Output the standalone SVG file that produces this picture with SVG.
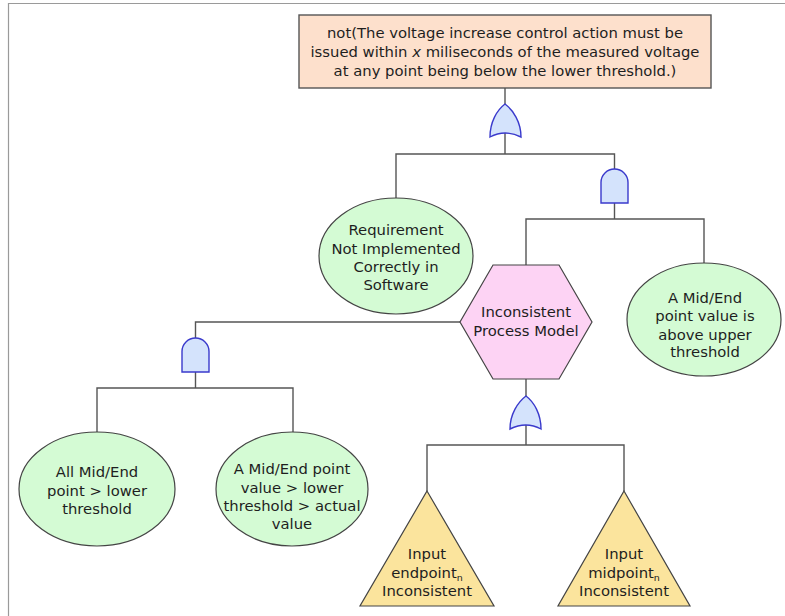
<svg xmlns="http://www.w3.org/2000/svg" width="785" height="616" viewBox="0 0 785 616">
  <style>
    .frame { fill: none; stroke: #9a9a9a; stroke-width: 1.2; }
    .wire { fill: none; stroke: #555555; stroke-width: 1.4; }
    .gate { fill: #d4e3fc; stroke: #3a3acc; stroke-width: 1.4; }
    .top { fill: #fde0cc; stroke: #555555; stroke-width: 1.4; }
    .event { fill: #d4fbd4; stroke: #444444; stroke-width: 1.2; }
    .hex { fill: #fdd3f4; stroke: #444444; stroke-width: 1.2; }
    .und { fill: #fbe49d; stroke: #444444; stroke-width: 1.2; }
    text { font-family: "DejaVu Sans", "Liberation Sans", sans-serif; font-size: 14.8px; fill: #1e1e1e; text-anchor: middle; }
  </style>

  <!-- page frame -->
  <path class="frame" d="M8.5,616 V3.5 H785"/>

  <!-- connectors -->
  <g id="connectors">
    <path class="wire" d="M505,88 V104"/>
    <path class="wire" d="M505,133 V154 M396,198 V154 H614.5 V169"/>
    <path class="wire" d="M614.5,203 V219 M526,265 V219 H704 V263"/>
    <path class="wire" d="M460,322 H195.5 V338"/>
    <path class="wire" d="M195.5,372 V388 M97,432 V388 H293 V432"/>
    <path class="wire" d="M526,379 V396"/>
    <path class="wire" d="M526,425 V445 M427,491 V445 H624 V491"/>
  </g>

  <!-- gates -->
  <g id="gate-or-top">
    <path class="gate" d="M490,137 C490,122 497,110 505,104 C513,110 521,122 521,137 Q505,129 490,137 Z"/>
  </g>
  <g id="gate-and-right">
    <path class="gate" d="M601,203 V182.5 A13.5,13.5 0 0 1 628,182.5 V203 Z"/>
  </g>
  <g id="gate-and-left">
    <path class="gate" d="M182,372 V351.5 A13.5,13.5 0 0 1 209,351.5 V372 Z"/>
  </g>
  <g id="gate-or-bottom">
    <path class="gate" d="M510,429 C510,414 518,402 526,396 C534,402 541,414 541,429 Q526,421 510,429 Z"/>
  </g>

  <!-- top event -->
  <g id="top-event">
    <rect class="top" x="299" y="15" width="412" height="73"/>
    <text x="505" y="37.5">not(The voltage increase control action must be</text>
    <text x="505" y="56.5">issued within <tspan font-style="italic">x</tspan> miliseconds of the measured voltage</text>
    <text x="505" y="76">at any point being below the lower threshold.)</text>
  </g>

  <!-- basic events -->
  <g id="requirement-not-implemented">
    <ellipse class="event" cx="396" cy="256" rx="77" ry="58"/>
    <text x="396" y="235">Requirement</text>
    <text x="396" y="253.5">Not Implemented</text>
    <text x="396" y="272">Correctly in</text>
    <text x="396" y="290">Software</text>
  </g>

  <g id="above-upper-threshold">
    <ellipse class="event" cx="704" cy="319.5" rx="77" ry="56.5"/>
    <text x="705" y="302.5">A Mid/End</text>
    <text x="705" y="321">point value is</text>
    <text x="705" y="339.5">above upper</text>
    <text x="705" y="357">threshold</text>
  </g>

  <g id="inconsistent-process-model">
    <polygon class="hex" points="493,265 559,265 592,322 559,379 493,379 460,322"/>
    <text x="526" y="317">Inconsistent</text>
    <text x="526" y="335.5">Process Model</text>
  </g>

  <g id="all-above-lower">
    <ellipse class="event" cx="97" cy="489" rx="78" ry="57"/>
    <text x="97" y="477">All Mid/End</text>
    <text x="97" y="496">point &gt; lower</text>
    <text x="97" y="514">threshold</text>
  </g>

  <g id="between-thresholds">
    <ellipse class="event" cx="292" cy="489" rx="76" ry="57"/>
    <text x="292" y="473.5">A Mid/End point</text>
    <text x="292" y="492.5">value &gt; lower</text>
    <text x="292" y="511">threshold &gt; actual</text>
    <text x="292" y="529">value</text>
  </g>

  <!-- undeveloped inputs -->
  <g id="input-endpoint">
    <polygon class="und" points="427,491 494,606 360,606"/>
    <text x="427" y="558.5">Input</text>
    <text x="427" y="578">endpoint<tspan font-size="9.5" dy="3">n</tspan></text>
    <text x="427" y="596">Inconsistent</text>
  </g>

  <g id="input-midpoint">
    <polygon class="und" points="624,491 690,606 558,606"/>
    <text x="624" y="558.5">Input</text>
    <text x="624" y="578">midpoint<tspan font-size="9.5" dy="3">n</tspan></text>
    <text x="624" y="596">Inconsistent</text>
  </g>
</svg>
